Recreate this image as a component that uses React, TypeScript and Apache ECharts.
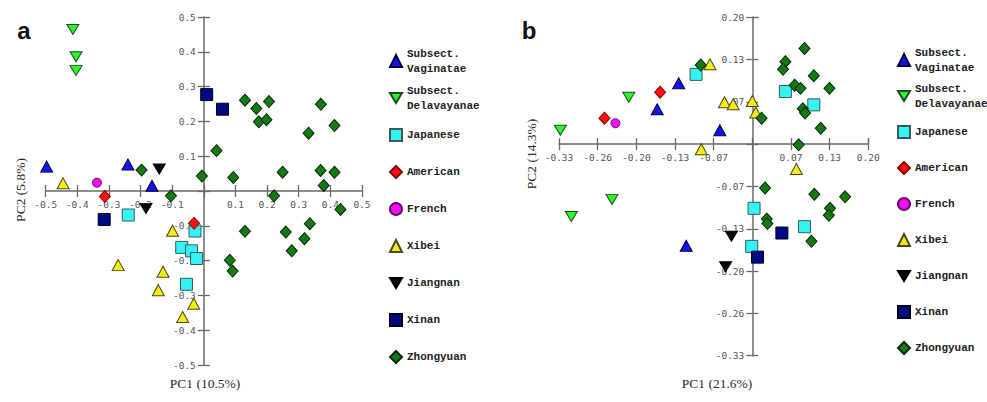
import React, { useEffect, useRef } from "react";
import * as echarts from "echarts";

// ---------- data ----------
const groupNames = [
  "Subsect. Vaginatae",
  "Subsect. Delavayanae",
  "Japanese",
  "American",
  "French",
  "Xibei",
  "Jiangnan",
  "Xinan",
  "Zhongyuan",
];

// Panel a (PC1 10.5%, PC2 5.8%)
const aVaginatae = [[-0.497, 0.070], [-0.240, 0.076], [-0.164, 0.015]];
const aDelavayanae = [[-0.414, 0.464], [-0.404, 0.386], [-0.404, 0.346]];
const aJapanese = [[-0.239, -0.069], [-0.028, -0.115], [-0.070, -0.162], [-0.039, -0.172], [-0.023, -0.194], [-0.055, -0.268]];
const aAmerican = [[-0.313, -0.016], [-0.031, -0.093]];
const aFrench = [[-0.338, 0.024]];
const aXibei = [[-0.445, 0.022], [-0.099, -0.114], [-0.271, -0.213], [-0.129, -0.232], [-0.144, -0.285], [-0.032, -0.324], [-0.067, -0.362]];
const aJiangnan = [[-0.141, 0.063], [-0.183, -0.050]];
const aXinan = [[0.009, 0.277], [0.059, 0.235], [-0.315, -0.082]];
const aZhongyuan = [
  [-0.197, 0.060], [-0.104, -0.014], [-0.006, 0.043], [0.040, 0.116], [0.093, 0.039],
  [0.130, 0.261], [0.166, 0.237], [0.174, 0.199], [0.206, 0.257], [0.198, 0.205],
  [0.331, 0.166], [0.370, 0.249], [0.413, 0.188], [0.249, 0.054], [0.369, 0.059],
  [0.413, 0.054], [0.379, 0.016], [0.222, -0.014], [0.432, -0.053], [0.335, -0.094],
  [0.130, -0.116], [0.259, -0.118], [0.318, -0.137], [0.278, -0.172], [0.082, -0.199],
  [0.091, -0.230],
];

// Panel b (PC1 21.6%, PC2 14.3%)
const bVaginatae = [[-0.164, 0.055], [-0.127, 0.096], [-0.056, 0.022], [-0.114, -0.160]];
const bDelavayanae = [[-0.331, 0.022], [-0.213, 0.074], [-0.312, -0.114], [-0.242, -0.087]];
const bJapanese = [[-0.097, 0.110], [0.057, 0.083], [0.106, 0.062], [0.003, -0.101], [0.090, -0.130], [-0.001, -0.161]];
const bAmerican = [[-0.255, 0.041], [-0.159, 0.082]];
const bFrench = [[-0.236, 0.033]];
const bXibei = [[-0.073, 0.126], [-0.048, 0.066], [-0.033, 0.063], [0.000, 0.068], [0.006, 0.050], [-0.088, -0.008], [0.076, -0.039]];
const bJiangnan = [[-0.036, -0.145], [-0.046, -0.193]];
const bXinan = [[0.051, -0.140], [0.009, -0.178]];
const bZhongyuan = [
  [-0.089, 0.125], [0.090, 0.151], [0.057, 0.130], [0.053, 0.118], [0.106, 0.108],
  [0.073, 0.093], [0.083, 0.088], [0.133, 0.088], [0.087, 0.056], [0.091, 0.049],
  [0.118, 0.025], [0.016, 0.041], [0.080, -0.001], [0.022, -0.069], [0.107, -0.079],
  [0.160, -0.083], [0.134, -0.101], [0.132, -0.112], [0.025, -0.118], [0.026, -0.125],
  [0.102, -0.153],
];

const aTickLabels = ["-0.5", "-0.4", "-0.3", "-0.2", "-0.1", "", "0.1", "0.2", "0.3", "0.4", "0.5"];
const bXTickLabels = ["-0.33", "-0.26", "-0.20", "-0.13", "-0.07", "", "0.07", "0.13", "0.20"];
const bYTickLabels = ["-0.33", "-0.26", "-0.20", "-0.13", "-0.07", "", "0.07", "0.13", "0.20"];

const aTitles = { x: "PC1 (10.5%)", y: "PC2 (5.8%)", panel: "a" };
const bTitles = { x: "PC1 (21.6%)", y: "PC2 (14.3%)", panel: "b" };

// ---------- layout / styles ----------
const gridA = { left: 45.7, top: 17, width: 316.3, height: 348 };
const gridB = { left: 559, top: 17.3, width: 309.3, height: 338.4 };

const DOWN = "path://M0,0L12,0L6,10Z";
const groupStyles = [
  { symbol: "triangle", size: [12, 11], color: "#1414e6", border: "#00004a" },
  { symbol: DOWN, size: [12, 10], color: "#2cf52c", border: "#1d4d1d" },
  { symbol: "rect", size: 12, color: "#33f3f3", border: "#3a5a5a" },
  { symbol: "diamond", size: [11, 12], color: "#ff1010", border: "#8a0000" },
  { symbol: "circle", size: 9, color: "#ee10ee", border: "#700070" },
  { symbol: "triangle", size: [12, 11], color: "#f6ec10", border: "#4a4a20" },
  { symbol: DOWN, size: [12, 10], color: "#050505", border: "#000000" },
  { symbol: "rect", size: 12, color: "#000a80", border: "#000022" },
  { symbol: "diamond", size: [11, 12], color: "#137a13", border: "#052a05" },
];

const aData = [aVaginatae, aDelavayanae, aJapanese, aAmerican, aFrench, aXibei, aJiangnan, aXinan, aZhongyuan];
const bData = [bVaginatae, bDelavayanae, bJapanese, bAmerican, bFrench, bXibei, bJiangnan, bXinan, bZhongyuan];

const AXIS_COLOR = "#6a6a6a";
const labelFont = { fontFamily: "DejaVu Sans Mono", fontSize: 9.5, color: "#555" };

// axes placed so that they cross at the zero of the other axis
function makeAxes(dim: "x" | "y", gridIndex: number, min: number, max: number, interval: number, labels: string[], span: number) {
  const fmt = (v: number) => {
    if (Math.abs(v) < 1e-9) return "";
    const i = Math.round((v - min) / interval);
    return labels[i] ?? "";
  };
  const offset = -span;
  const main: any = {
    type: "value",
    gridIndex,
    min,
    max,
    interval,
    position: dim === "x" ? "bottom" : "left",
    offset,
    axisLine: { show: true, onZero: false, lineStyle: { color: AXIS_COLOR, width: 1.5 } },
    axisTick: { show: true, length: 6, lineStyle: { color: AXIS_COLOR, width: 1.3 } },
    axisLabel: { show: true, margin: 8, formatter: fmt, hideOverlap: true, showMinLabel: true, showMaxLabel: true, ...labelFont },
    splitLine: { show: false },
  };
  const inner: any = {
    type: "value",
    gridIndex,
    min,
    max,
    interval,
    position: dim === "x" ? "bottom" : "left",
    offset,
    axisLine: { show: false, onZero: false },
    axisTick: { show: true, inside: true, length: 6, lineStyle: { color: AXIS_COLOR, width: 1.3 } },
    axisLabel: { show: false },
    splitLine: { show: false },
  };
  return [main, inner];
}

const legendFont = { fontFamily: "Liberation Mono", fontSize: 11, fontWeight: "bold", color: "#222" };

function legendFor(left: number, top: number, gap: number) {
  return {
    orient: "vertical",
    left,
    top,
    itemGap: gap,
    itemWidth: 12,
    itemHeight: 12,
    selectedMode: false,
    formatter: (n: string) => n.replace("Subsect. ", "Subsect.\n"),
    textStyle: { ...legendFont },
    data: groupNames.map((n) => ({
      name: n,
      textStyle: { lineHeight: n.startsWith("Subsect") ? 15 : 30, ...legendFont },
    })),
  };
}

function makeSeries(data: number[][][], xi: number, yi: number) {
  return data.map((pts, i) => {
    const s = groupStyles[i];
    return {
      type: "scatter",
      name: groupNames[i],
      xAxisIndex: xi,
      yAxisIndex: yi,
      symbol: s.symbol,
      symbolSize: s.size,
      itemStyle: { color: s.color, borderColor: s.border, borderWidth: 1, opacity: 1 },
      emphasis: { disabled: true },
      data: pts,
      z: 3 + i,
    };
  });
}

const titleFont = { fontFamily: "Liberation Serif", fontSize: 13.5, fill: "#2a2a2a" };

export default function App() {
  const ref = useRef<HTMLDivElement>(null);
  useEffect(() => {
    if (!ref.current) return;
    const chart = echarts.init(ref.current, undefined, { renderer: "svg" });
    const aMin = -0.5, aMax = 0.5, bMin = -1 / 3, bMax = 0.2;
    const zeroFracA = (0 - aMin) / (aMax - aMin);
    const zeroFracB = (0 - bMin) / (bMax - bMin);
    const [axm, axi] = makeAxes("x", 0, aMin, aMax, 0.1, aTickLabels, gridA.height * zeroFracA);
    const [aym, ayi] = makeAxes("y", 0, aMin, aMax, 0.1, aTickLabels, gridA.width * zeroFracA);
    const [bxm, bxi] = makeAxes("x", 1, bMin, bMax, 1 / 15, bXTickLabels, gridB.height * zeroFracB);
    const [bym, byi] = makeAxes("y", 1, bMin, bMax, 1 / 15, bYTickLabels, gridB.width * zeroFracB);
    const option: any = {
      animation: false,
      backgroundColor: "#ffffff",
      grid: [
        { ...gridA, containLabel: false, outerBoundsMode: "none" },
        { ...gridB, containLabel: false, outerBoundsMode: "none" },
      ],
      xAxis: [axm, axi, bxm, bxi],
      yAxis: [aym, ayi, bym, byi],
      legend: [legendFor(384, 41, 7), legendFor(892, 40, 6)],
      series: [...makeSeries(aData, 0, 0), ...makeSeries(bData, 2, 2)],
      graphic: [
        { type: "text", x: 24, y: 30, style: { text: aTitles.panel, fontFamily: "Liberation Sans", fontWeight: "bold", fontSize: 24, fill: "#111", align: "center", verticalAlign: "middle" } },
        { type: "text", x: 529, y: 30, style: { text: bTitles.panel, fontFamily: "Liberation Sans", fontWeight: "bold", fontSize: 24, fill: "#111", align: "center", verticalAlign: "middle" } },
        { type: "text", x: 205, y: 383, style: { text: aTitles.x, ...titleFont, align: "center", verticalAlign: "middle" } },
        { type: "text", x: 20, y: 190, rotation: Math.PI / 2, style: { text: aTitles.y, ...titleFont, align: "center", verticalAlign: "middle" } },
        { type: "text", x: 717, y: 383, style: { text: bTitles.x, ...titleFont, align: "center", verticalAlign: "middle" } },
        { type: "text", x: 531, y: 154, rotation: Math.PI / 2, style: { text: bTitles.y, ...titleFont, align: "center", verticalAlign: "middle" } },
      ],
    };
    chart.setOption(option);
    return () => chart.dispose();
  }, []);
  return (
    <div
      ref={ref}
      style={{ position: "fixed", left: 0, top: 0, width: 987, height: 402, background: "#fff" }}
    />
  );
}
